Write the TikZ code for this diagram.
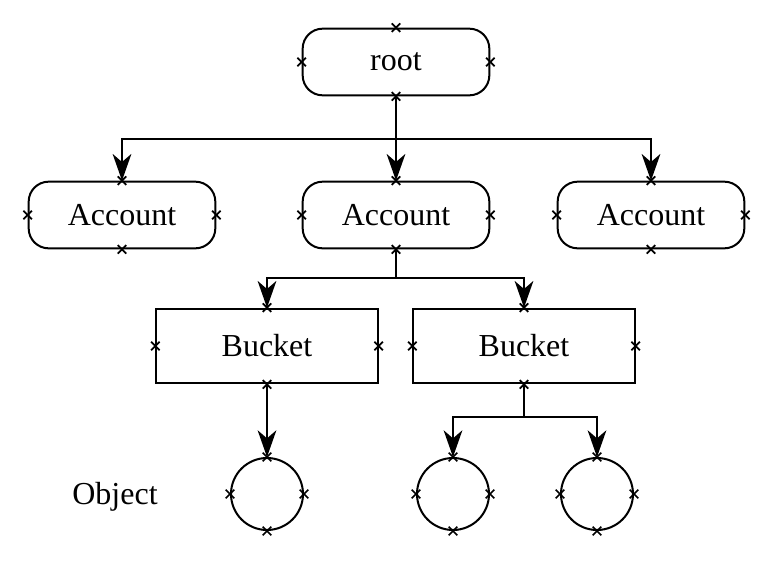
\documentclass[tikz,border=0pt]{standalone}
\usepackage{fontspec}
\setmainfont{Liberation Serif}
\usetikzlibrary{arrows.meta}
\begin{document}
\begin{tikzpicture}[x=0.75pt,y=-0.75pt,
  every node/.style={font=\fontsize{24}{28}\selectfont},
  rbox/.style={draw,line width=1.5pt,rounded corners=15pt,minimum width=140pt,minimum height=50pt,inner sep=0pt},
  sbox/.style={draw,line width=1.5pt,minimum width=166pt,minimum height=56pt,inner sep=0pt},
  cnode/.style={draw,line width=1.5pt,circle,minimum size=54pt,inner sep=0pt},
  arr/.style={line width=1.6pt,-{Stealth[length=20pt,width=14pt,inset=6pt]}},
  link/.style={line width=1.6pt},
  xmark/.style={line width=1.3pt}]
\useasboundingbox (0,0) rectangle (767,561);
\node[rbox] (root) at (396,62) {root};
\node[rbox] (a1) at (122,215) {Account};
\node[rbox] (a2) at (396,215) {Account};
\node[rbox] (a3) at (651,215) {Account};
\node[sbox] (b1) at (267,346) {Bucket};
\node[sbox] (b2) at (524,346) {Bucket};
\node[cnode] (o1) at (267,494) {};
\node[cnode] (o2) at (453,494) {};
\node[cnode] (o3) at (597,494) {};
\node (obj) at (115,497) {Object};
\coordinate (j1) at (396,139);
\coordinate (j2) at (396,278);
\coordinate (j3) at (524,417);
\draw[link] (root.south) -- (j1);
\draw[arr] (j1) -| (a1.north);
\draw[arr] (j1) -| (a3.north);
\draw[arr] (j1) -- (a2.north);
\draw[link] (a2.south) -- (j2);
\draw[arr] (j2) -| (b1.north);
\draw[arr] (j2) -| (b2.north);
\draw[arr] (b1.south) -- (o1.north);
\draw[link] (b2.south) -- (j3);
\draw[arr] (j3) -| (o2.north);
\draw[arr] (j3) -| (o3.north);
\foreach \n in {root,a1,a2,a3,b1,b2,o1,o2,o3}
  \foreach \a in {north,south,east,west}
    \draw[xmark] (\n.\a) +(-3.2pt,-3.2pt) -- +(3.2pt,3.2pt) +(-3.2pt,3.2pt) -- +(3.2pt,-3.2pt);
\end{tikzpicture}
\end{document}
